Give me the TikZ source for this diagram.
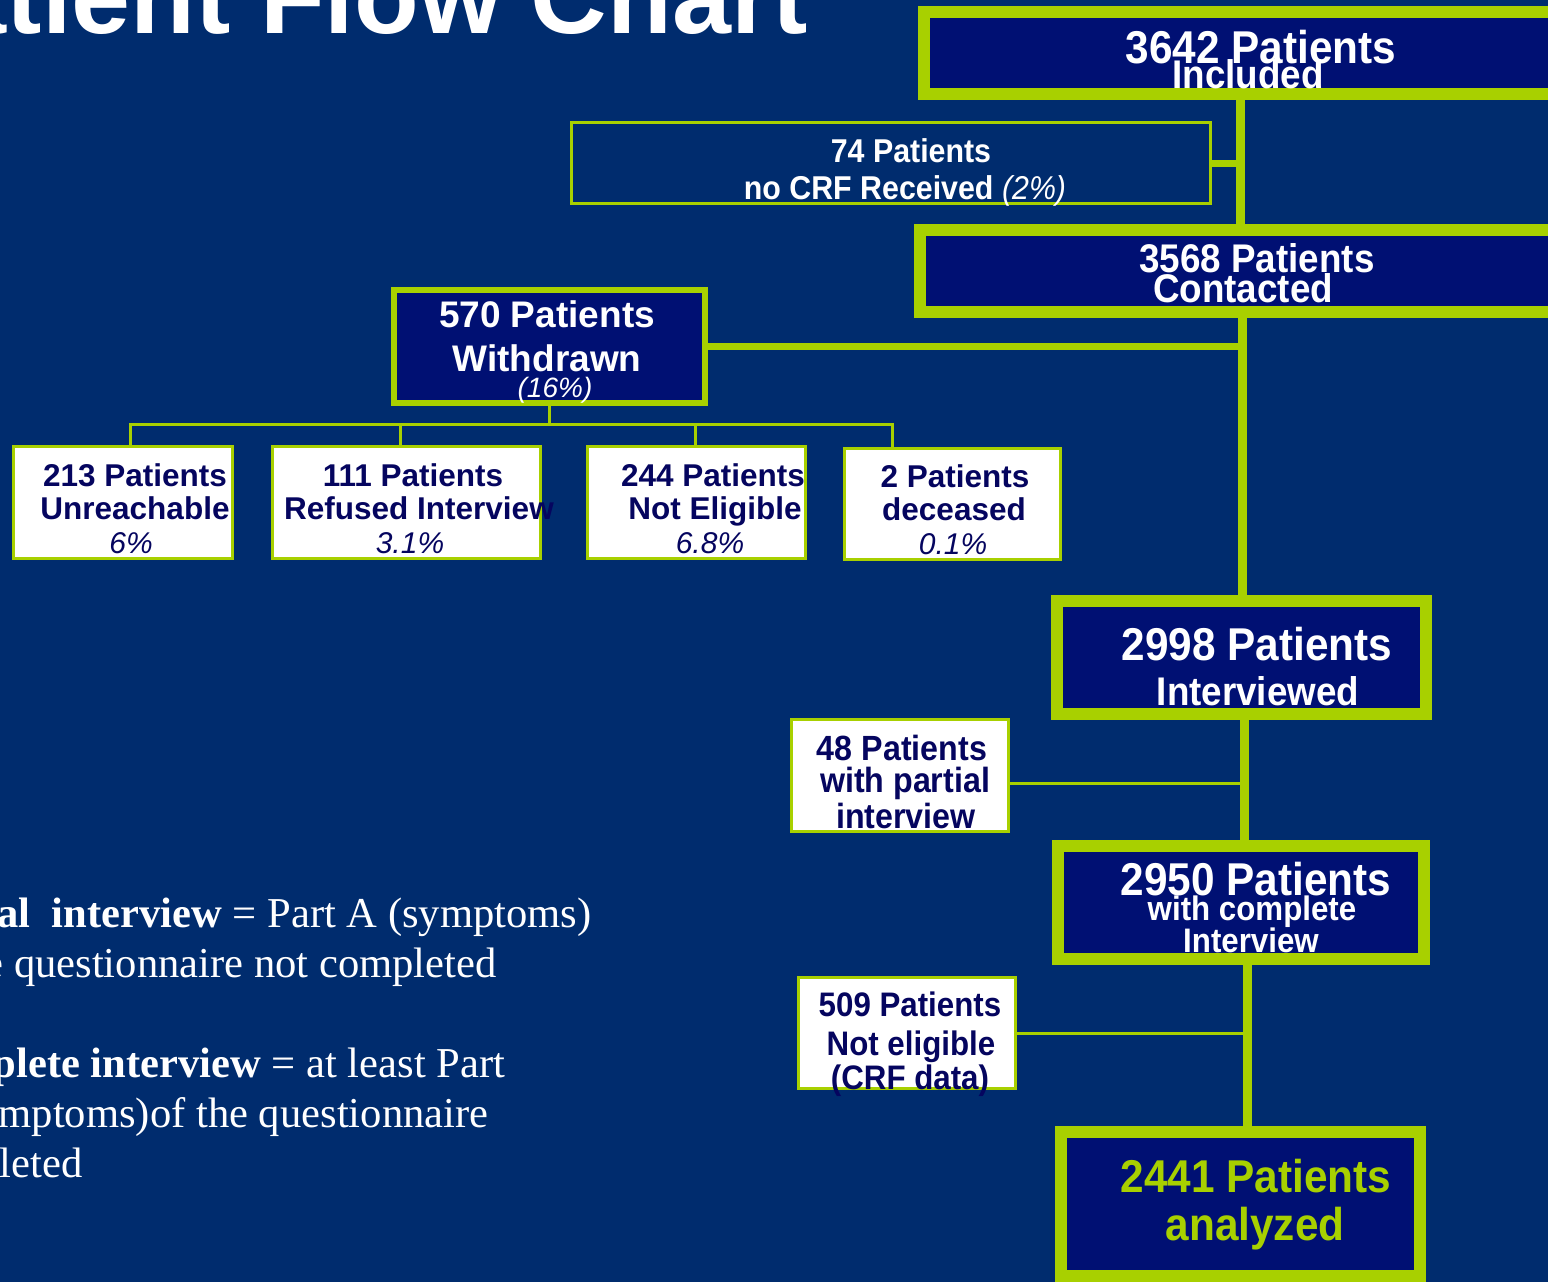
\documentclass[tikz,border=0pt]{standalone}
\usepackage{fontspec}
\usetikzlibrary{calc}
\setmainfont{Liberation Sans}
\newfontfamily\nar{Liberation Sans}[FakeStretch=0.92]
\newfontfamily\tms{Liberation Serif}
\newcommand\fz[1]{\fontsize{#1pt}{#1pt}\selectfont}
\definecolor{bg}{RGB}{0,44,110}
\definecolor{navyfill}{RGB}{0,16,115}
\definecolor{lime}{RGB}{168,208,0}
\definecolor{navytext}{RGB}{5,5,95}
\begin{document}
\begin{tikzpicture}[x=1pt,y=-1pt,
  bigbox/.style={draw=lime, line width=12pt, fill=navyfill, inner sep=0pt, outer sep=0pt, anchor=north west},
  midbox/.style={draw=lime, line width=6pt, fill=navyfill, inner sep=0pt, outer sep=0pt, anchor=north west},
  whitebox/.style={draw=lime, line width=3pt, fill=white, inner sep=0pt, outer sep=0pt, anchor=north west},
  outbox/.style={draw=lime, line width=3pt, inner sep=0pt, outer sep=0pt, anchor=north west},
  trunk/.style={draw=lime, line width=9pt},
  stub/.style={draw=lime, line width=7pt},
  thinlink/.style={draw=lime, line width=3pt},
  txt/.style={inner sep=0pt, anchor=base},
  wtxt/.style={txt, text=white, font=\nar\bfseries},
  ntxt/.style={txt, text=navytext, font=\bfseries},
  nntxt/.style={txt, text=navytext, font=\nar\bfseries},
  gtxt/.style={txt, text=lime, font=\nar\bfseries},
  serif/.style={inner sep=0pt, anchor=base west, text=white, font=\tms\fz{42.6}}
]
\useasboundingbox (0,0) rectangle (1548,1282);
\clip (0,0) rectangle (1548,1282);
\fill[bg] (0,0) rectangle (1548,1282);

% title
\node[txt, anchor=base east, text=white, font=\bfseries\fz{106}] (title) at (808,33) {Patient Flow Chart};

% main boxes
\node[bigbox, minimum width=646.5pt, minimum height=82.5pt] (inc) at (923.5,11.5) {};
\node[outbox, minimum width=639pt, minimum height=81pt] (crf) at (571.5,122.5) {};
\node[bigbox, minimum width=650pt, minimum height=82pt] (con) at (920,230) {};
\node[midbox, minimum width=311pt, minimum height=113pt] (wd) at (394,290) {};
\node[whitebox, minimum width=219pt, minimum height=112pt] (unr) at (13.5,446.5) {};
\node[whitebox, minimum width=268pt, minimum height=112pt] (ref) at (272.5,446.5) {};
\node[whitebox, minimum width=218pt, minimum height=112pt] (nel) at (587.5,446.5) {};
\node[whitebox, minimum width=216pt, minimum height=111pt] (dec) at (844.5,448.5) {};
\node[bigbox, minimum width=369pt, minimum height=113pt] (int) at (1057,601) {};
\node[whitebox, minimum width=217pt, minimum height=112pt] (part) at (791.5,719.5) {};
\node[bigbox, minimum width=366pt, minimum height=113pt] (comp) at (1058,846) {};
\node[whitebox, minimum width=217pt, minimum height=111pt] (ne2) at (798.5,977.5) {};
\node[bigbox, minimum width=359pt, minimum height=144pt] (ana) at (1061,1132) {};

% trunk coordinates
\coordinate (t1) at (1240,0);
\coordinate (t2) at (1242,0);
\coordinate (t3) at (1244,0);
\coordinate (t4) at (1247,0);
\coordinate (b1) at (130,424);
\coordinate (b2) at (400,424);
\coordinate (b3) at (695,424);
\coordinate (b4) at (892,424);
\coordinate (pl) at ($(part.north east)!0.57!(part.south east)$);

% connectors
\draw[trunk] (t1 |- inc.south) -- (t1 |- con.north);
\draw[stub] (crf.east) -- (crf.east -| t1);
\draw[trunk] (t2 |- con.south) -- (t2 |- int.north);
\draw[stub] (wd.east) -- (wd.east -| t2);
\draw[thinlink] (wd.south) -- (wd.south |- b1);
\draw[thinlink] (unr.north -| b1) -- (b1) -- (b4) -- (b4 |- dec.north);
\draw[thinlink] (b2) -- (b2 |- ref.north);
\draw[thinlink] (b3) -- (b3 |- nel.north);
\draw[trunk] (t3 |- int.south) -- (t3 |- comp.north);
\draw[thinlink] (pl) -- (pl -| t3);
\draw[trunk] (t4 |- comp.south) -- (t4 |- ana.north);
\draw[thinlink] (ne2.east) -- (ne2.east -| t4);

% texts
\node[wtxt, font=\nar\bfseries\fz{46}] (inc1) at (1261,63) {3642 Patients};
\node[wtxt, font=\nar\bfseries\fz{40}] (inc2) at (1248,88) {Included};
\node[wtxt, font=\nar\bfseries\fz{33}] (crf1) at (911,162) {74 Patients};
\node[wtxt, font=\nar\bfseries\fz{33}] (crf2) at (905,199) {no CRF Received {\mdseries\itshape (2\%)}};
\node[wtxt, font=\nar\bfseries\fz{40}] (con1) at (1257,272) {3568 Patients};
\node[wtxt, font=\nar\bfseries\fz{40}] (con2) at (1243,302) {Contacted};
\node[wtxt, font=\bfseries\fz{37}] (wd1) at (547,327) {570 Patients};
\node[wtxt, font=\bfseries\fz{37}] (wd2) at (547,371) {Withdrawn};
\node[wtxt, font=\itshape\fz{28}] (wd3) at (555,397) {(16\%)};

\node[ntxt, font=\bfseries\fz{31.5}] (unr1) at (135,486) {213 Patients};
\node[ntxt, font=\bfseries\fz{31.5}] (unr2) at (135,519) {Unreachable};
\node[ntxt, font=\itshape\fz{30}] (unr3) at (131,553) {6\%};
\node[ntxt, font=\bfseries\fz{31.5}] (ref1) at (413,486) {111 Patients};
\node[ntxt, font=\bfseries\fz{31.5}] (ref2) at (419,519) {Refused Interview};
\node[ntxt, font=\itshape\fz{30}] (ref3) at (410,553) {3.1\%};
\node[ntxt, font=\bfseries\fz{31.5}] (nel1) at (713,486) {244 Patients};
\node[ntxt, font=\bfseries\fz{31.5}] (nel2) at (715,519) {Not Eligible};
\node[ntxt, font=\itshape\fz{30}] (nel3) at (710,553) {6.8\%};
\node[ntxt, font=\bfseries\fz{31.5}] (dec1) at (955,487) {2 Patients};
\node[ntxt, font=\bfseries\fz{31.5}] (dec2) at (954,520) {deceased};
\node[ntxt, font=\itshape\fz{30}] (dec3) at (953,554) {0.1\%};

\node[wtxt, font=\nar\bfseries\fz{46}] (int1) at (1257,660) {2998 Patients};
\node[wtxt, font=\nar\bfseries\fz{40}] (int2) at (1258,705) {Interviewed};
\node[nntxt, font=\nar\bfseries\fz{35}] (part1) at (902,760) {48 Patients};
\node[nntxt, font=\nar\bfseries\fz{35}] (part2) at (905,792) {with partial};
\node[nntxt, font=\nar\bfseries\fz{35}] (part3) at (906,828) {interview};
\node[wtxt, font=\nar\bfseries\fz{46}] (comp1) at (1256,895) {2950 Patients};
\node[wtxt, font=\nar\bfseries\fz{34}] (comp2) at (1252,920) {with complete};
\node[wtxt, font=\nar\bfseries\fz{34}] (comp3) at (1251,952) {Interview};
\node[nntxt, font=\nar\bfseries\fz{34}] (ne21) at (910,1016) {509 Patients};
\node[nntxt, font=\nar\bfseries\fz{34}] (ne22) at (911,1055) {Not eligible};
\node[nntxt, font=\nar\bfseries\fz{34}] (ne23) at (910,1089) {(CRF data)};
\node[gtxt, font=\nar\bfseries\fz{46}] (ana1) at (1256,1192) {2441 Patients};
\node[gtxt, font=\nar\bfseries\fz{46}] (ana2) at (1255,1240) {analyzed};

% definitions text
\node[serif] (d1) at (-95,927) {\textbf{Partial\ \ interview} = Part A (symptoms)};
\node[serif] (d2) at (-95,977) {of the questionnaire not completed};
\node[serif] (d3) at (-95,1077) {\textbf{Complete interview} = at least Part};
\node[serif] (d4) at (-95,1127) {A (symptoms)of the questionnaire};
\node[serif] (d5) at (-95,1177) {completed};
\end{tikzpicture}
\end{document}
